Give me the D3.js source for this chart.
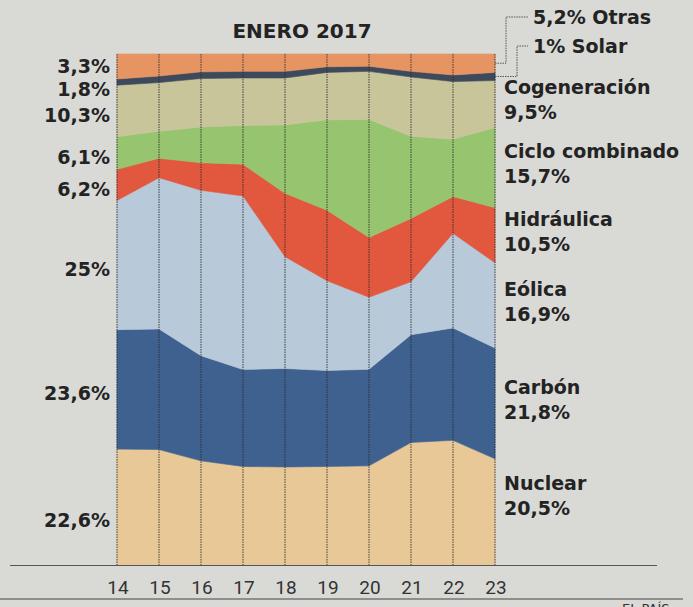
<!DOCTYPE html>
<html>
<head>
<meta charset="utf-8">
<script src="https://cdn.jsdelivr.net/npm/d3@7"></script>
<style>
  html, body { margin: 0; padding: 0; background: #d9d9d6; }
  svg { display: block; }
  .lbl { font-family: "DejaVu Sans", sans-serif; font-weight: bold; font-size: 19px; fill: #232323; }
  .tick-lbl { font-family: Roboto, sans-serif; font-size: 19px; fill: #333; }
</style>
</head>
<body>
<div id="chart"></div>
<script>
// ==========================
// Data (share of generation, %)
// ==========================
const days = [14, 15, 16, 17, 18, 19, 20, 21, 22, 23];

const nuclear        = [22.7, 22.6, 20.4, 19.3, 19.2, 19.3, 19.4, 24.0, 24.4, 20.8];
const carbon         = [23.4, 23.6, 20.6, 19.0, 19.3, 18.8, 18.9, 21.1, 22.0, 21.7];
const eolica         = [25.3, 29.6, 32.4, 34.0, 21.9, 17.6, 14.1, 10.4, 18.5, 16.7];
const hidraulica     = [6.1, 3.8, 5.4, 6.2, 12.4, 13.8, 11.7, 12.4, 7.2, 10.8];
const cicloCombinado = [6.4, 5.3, 7.0, 7.6, 13.4, 17.7, 23.1, 16.1, 11.2, 15.7];
const cogeneracion   = [10.1, 9.5, 9.5, 9.3, 9.2, 9.3, 9.4, 11.6, 11.3, 9.2];
const solar          = [1.2, 1.3, 1.3, 1.3, 1.3, 1.1, 1.0, 1.1, 1.3, 1.6];
const otras          = [4.9, 4.3, 3.5, 3.4, 3.4, 2.5, 2.4, 3.4, 4.1, 3.6];

// bottom to top
const seriesNames = ["Nuclear", "Carbón", "Eólica", "Hidráulica", "Ciclo combinado", "Cogeneración", "Solar", "Otras"];
const seriesValues = [nuclear, carbon, eolica, hidraulica, cicloCombinado, cogeneracion, solar, otras];
const leftLabels  = ["22,6%", "23,6%", "25%", "6,2%", "6,1%", "10,3%", "1,8%", "3,3%"];
const rightLabels = ["20,5%", "21,8%", "16,9%", "10,5%", "15,7%", "9,5%", "1%", "5,2%"];

const colors = {
    "Nuclear": "#e9c898",
    "Carbón": "#3e6190",
    "Eólica": "#b8c9d9",
    "Hidráulica": "#e1583f",
    "Ciclo combinado": "#97c46f",
    "Cogeneración": "#c9c59b",
    "Solar": "#3e4a5c",
    "Otras": "#e59462"
};

// ==========================
// Dimensions
// ==========================
const width = 693;
const height = 607;
const plot = { left: 117, right: 495, top: 54, bottom: 565 };

const svg = d3.select("#chart")
    .append("svg")
    .attr("width", width)
    .attr("height", height);

svg.append("rect")
    .attr("width", width)
    .attr("height", height)
    .attr("fill", "#d9d9d6");

const x = d3.scaleLinear().domain([14, 23]).range([plot.left, plot.right]);
const y = d3.scaleLinear().domain([0, 1]).range([plot.bottom, plot.top]);

// table for d3.stack
const table = days.map((d, i) => {
    const row = { day: d };
    seriesNames.forEach((name, k) => { row[name] = seriesValues[k][i]; });
    return row;
});

const stacked = d3.stack()
    .keys(seriesNames)
    .offset(d3.stackOffsetExpand)(table);

const area = d3.area()
    .x(d => x(d.data.day))
    .y0(d => y(d[0]))
    .y1(d => y(d[1]));

// ==========================
// Areas
// ==========================
svg.append("g")
    .selectAll("path")
    .data(stacked)
    .enter()
    .append("path")
    .attr("d", area)
    .attr("fill", d => colors[d.key])
    .attr("stroke", d => colors[d.key])
    .attr("stroke-width", 0.6);

// vertical day lines
svg.append("g")
    .selectAll("line")
    .data(days)
    .enter()
    .append("line")
    .attr("x1", d => x(d))
    .attr("x2", d => x(d))
    .attr("y1", plot.top)
    .attr("y2", plot.bottom)
    .attr("stroke", "#2b2b2b")
    .attr("stroke-width", 1)
    .attr("stroke-dasharray", "1.5,1")
    .attr("opacity", 0.85);

// rules
svg.append("line")
    .attr("x1", 10).attr("x2", 657)
    .attr("y1", plot.bottom + 0.5).attr("y2", plot.bottom + 0.5)
    .attr("stroke", "#555").attr("stroke-width", 1);

svg.append("line")
    .attr("x1", 0).attr("x2", 683)
    .attr("y1", 599).attr("y2", 599)
    .attr("stroke", "#444").attr("stroke-width", 1.2);

// x tick labels
svg.append("g")
    .selectAll("text")
    .data(days)
    .enter()
    .append("text")
    .attr("class", "tick-lbl")
    .attr("x", d => x(d) + 1)
    .attr("y", 594)
    .attr("text-anchor", "middle")
    .text(d => d);

// title
svg.append("text")
    .attr("x", 302)
    .attr("y", 38)
    .attr("text-anchor", "middle")
    .attr("font-family", "DejaVu Sans, sans-serif")
    .attr("font-weight", "bold")
    .attr("font-size", 20)
    .attr("fill", "#232323")
    .text("ENERO 2017");

// ==========================
// Left labels (day 14)
// ==========================
const leftNudge = { "Nuclear": 13, "Solar": 7, "Otras": 0 };
svg.append("g")
    .selectAll("text")
    .data(stacked)
    .enter()
    .append("text")
    .attr("class", "lbl")
    .attr("x", 110)
    .attr("y", (d, i) => y((d[0][0] + d[0][1]) / 2) + (leftNudge[d.key] ?? 4))
    .attr("dy", "0.36em")
    .attr("text-anchor", "end")
    .text((d, i) => leftLabels[i]);

// ==========================
// Right labels (day 23)
// ==========================
const rightNudge = { "Nuclear": -16 };
const last = days.length - 1;
const rightGroup = svg.append("g");

stacked.forEach((s, i) => {
    if (s.key === "Solar" || s.key === "Otras") return;
    const mid = y((s[last][0] + s[last][1]) / 2) + (rightNudge[s.key] ?? -4);
    rightGroup.append("text")
        .attr("class", "lbl")
        .attr("x", 504)
        .attr("y", mid - 12.5)
        .attr("dy", "0.36em")
        .text(s.key);
    rightGroup.append("text")
        .attr("class", "lbl")
        .attr("x", 504)
        .attr("y", mid + 12.5)
        .attr("dy", "0.36em")
        .text(rightLabels[i]);
});

// Otras and Solar with leader lines
const small = [
    { key: "Otras", elbow: 506, textY: 17 },
    { key: "Solar", elbow: 517, textY: 46 }
];
small.forEach(o => {
    const k = seriesNames.indexOf(o.key);
    const s = stacked[k];
    const yMid = y((s[last][0] + s[last][1]) / 2);
    svg.append("path")
        .attr("d", d3.line()([[plot.right, yMid], [o.elbow, yMid], [o.elbow, o.textY], [528, o.textY]]))
        .attr("fill", "none")
        .attr("stroke", "#555")
        .attr("stroke-width", 1)
        .attr("stroke-dasharray", "1.5,1");
    svg.append("text")
        .attr("class", "lbl")
        .attr("x", 533)
        .attr("y", o.textY)
        .attr("dy", "0.36em")
        .text(rightLabels[k] + " " + o.key);
});

// source, cut by the bottom edge as in the print
svg.append("text")
    .attr("x", 622)
    .attr("y", 613)
    .attr("font-family", "DejaVu Sans, sans-serif")
    .attr("font-size", 13)
    .attr("fill", "#333")
    .text("EL PAÍS");
</script>
</body>
</html>
